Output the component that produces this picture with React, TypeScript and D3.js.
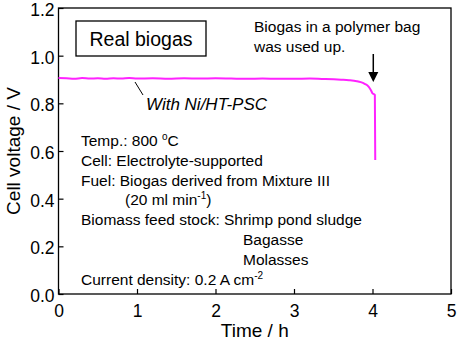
import { useEffect, useRef } from "react";
import * as d3 from "d3";

// time (h) and cell voltage (V)
const timeH = [0, 0.1, 0.2, 0.3, 0.4, 0.5, 0.6, 0.7, 0.8, 0.9, 1.0, 1.2, 1.4, 1.6, 1.8, 2.0, 2.2, 2.4, 2.6, 2.8, 3.0, 3.2, 3.4, 3.6, 3.7, 3.8, 3.85, 3.9, 3.95, 3.98, 4.0, 4.02, 4.03, 4.035];
const voltage = [0.906, 0.905, 0.903, 0.906, 0.904, 0.905, 0.903, 0.905, 0.904, 0.906, 0.904, 0.905, 0.903, 0.905, 0.904, 0.905, 0.904, 0.903, 0.904, 0.903, 0.903, 0.904, 0.902, 0.899, 0.897, 0.893, 0.889, 0.882, 0.87, 0.855, 0.842, 0.838, 0.835, 0.562];
const xTicks = [0, 1, 2, 3, 4, 5];
const yTicks = [0, 0.2, 0.4, 0.6, 0.8, 1.0, 1.2];
const infoLines = [
  { x: 0, text: "Temp.: 800 ", sup: "o", after: "C" },
  { x: 0, text: "Cell: Electrolyte-supported" },
  { x: 0, text: "Fuel: Biogas derived from Mixture III" },
  { x: 44, text: "(20 ml min", sup: "-1", after: ")" },
  { x: 0, text: "Biomass feed stock: Shrimp pond sludge" },
  { x: 162, text: "Bagasse" },
  { x: 162, text: "Molasses" },
  { x: 0, text: "Current density: 0.2 A cm", sup: "-2" },
];

const FONT = "Arial, 'Liberation Sans', sans-serif";

export default function App() {
  const ref = useRef<HTMLDivElement>(null);

  useEffect(() => {
    const container = d3.select(ref.current);
    container.select("svg").remove();

    const W = 459, H = 340;
    const M = { LEFT: 58.5, RIGHT: 8, TOP: 8, BOTTOM: 46 };
    const svg = container.append("svg")
      .attr("width", W)
      .attr("height", H)
      .style("position", "absolute")
      .style("left", "0px")
      .style("top", "0px")
      .style("font-family", FONT);

    const x = d3.scaleLinear().domain([0, 5]).range([M.LEFT, W - M.RIGHT]);
    const y = d3.scaleLinear().domain([0, 1.2]).range([H - M.BOTTOM, M.TOP]);

    // frame
    svg.append("rect")
      .attr("x", x(0)).attr("y", y(1.2))
      .attr("width", x(5) - x(0)).attr("height", y(0) - y(1.2))
      .attr("fill", "none").attr("stroke", "#000").attr("stroke-width", 1.3);

    // axes with inward ticks
    const xAxis = svg.append("g")
      .attr("transform", `translate(0, ${y(0)})`)
      .call(d3.axisBottom(x).tickValues(xTicks).tickSizeInner(-5).tickSizeOuter(0).tickPadding(11).tickFormat(d3.format("d")));
    const yAxis = svg.append("g")
      .attr("transform", `translate(${x(0)}, 0)`)
      .call(d3.axisLeft(y).tickValues(yTicks).tickSizeInner(-5).tickSizeOuter(0).tickPadding(4).tickFormat(d3.format(".1f")));
    [xAxis, yAxis].forEach(g => {
      g.select(".domain").remove();
      g.selectAll(".tick line").attr("stroke", "#000").attr("stroke-width", 1.2);
      g.selectAll(".tick text").attr("fill", "#000").style("font-size", "17.5px").style("font-family", FONT);
    });
    yAxis.selectAll(".tick text").attr("dy", "0.42em");

    svg.append("text")
      .attr("x", (x(0) + x(5)) / 2).attr("y", 337)
      .attr("text-anchor", "middle").style("font-size", "19px")
      .text("Time / h");
    svg.append("text")
      .attr("transform", `translate(20, ${(y(0) + y(1.2)) / 2}) rotate(-90)`)
      .attr("text-anchor", "middle").style("font-size", "19px")
      .text("Cell voltage / V");

    // data line
    const pts: [number, number][] = timeH.map((t, i) => [t, voltage[i]]);
    const line = d3.line<[number, number]>().x(d => x(d[0])).y(d => y(d[1])).curve(d3.curveMonotoneX);
    svg.append("path")
      .datum(pts)
      .attr("fill", "none")
      .attr("stroke", "#ff22ff")
      .attr("stroke-width", 2)
      .attr("stroke-linejoin", "round")
      .attr("d", line);

    // "Real biogas" box
    svg.append("rect")
      .attr("x", 76).attr("y", 21).attr("width", 130).attr("height", 35)
      .attr("fill", "#fff").attr("stroke", "#000").attr("stroke-width", 1.3);
    svg.append("text")
      .attr("x", 141).attr("y", 45.5).attr("text-anchor", "middle")
      .style("font-size", "19.5px").text("Real biogas");

    // series label
    svg.append("line")
      .attr("x1", 135).attr("y1", 82).attr("x2", 143).attr("y2", 95)
      .attr("stroke", "#000").attr("stroke-width", 1);
    svg.append("text")
      .attr("x", 146).attr("y", 110)
      .style("font-size", "17px").style("font-style", "italic")
      .text("With Ni/HT-PSC");

    // annotation + arrow
    svg.append("text").attr("x", 254).attr("y", 32).style("font-size", "15.5px").text("Biogas in a polymer bag");
    svg.append("text").attr("x", 254).attr("y", 52).style("font-size", "15.5px").text("was used up.");
    const ax = x(4.01);
    svg.append("line")
      .attr("x1", ax).attr("y1", 54).attr("x2", ax).attr("y2", 74)
      .attr("stroke", "#000").attr("stroke-width", 1.5);
    svg.append("path")
      .attr("d", `M${ax - 5},${72} L${ax + 5},${72} L${ax},${82} Z`)
      .attr("fill", "#000");

    // conditions block
    const info = svg.append("g").style("font-size", "15.5px");
    infoLines.forEach((l, i) => {
      const t = info.append("text").attr("x", 81 + l.x).attr("y", 146 + i * 19.8);
      t.append("tspan").text(l.text);
      if (l.sup) t.append("tspan").attr("dy", -6).style("font-size", "10px").text(l.sup);
      if (l.after) t.append("tspan").attr("dy", 6).text(l.after);
    });
  }, []);

  return <div ref={ref} />;
}
